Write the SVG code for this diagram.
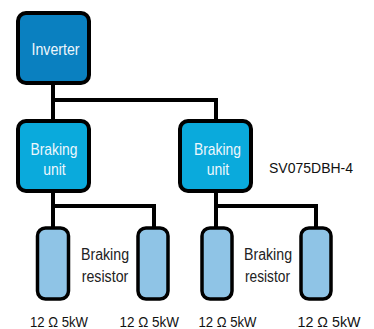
<svg xmlns="http://www.w3.org/2000/svg" width="374" height="329" viewBox="0 0 374 329">
<style>
.box{stroke:#000;stroke-width:4}
.inv{fill:#0a80c0}
.bu{fill:#0aaadc}
.res{fill:#8fc4e6;stroke:#000;stroke-width:3.5}
.wire{fill:none;stroke:#000;stroke-width:4}
.wt{font-family:"Liberation Sans",Arial,sans-serif;font-size:17px;fill:#eef7fc;text-anchor:middle}
.bt{font-family:"Liberation Sans",Arial,sans-serif;font-size:16px;fill:#222;text-anchor:middle}
.lt{font-family:"Liberation Sans",Arial,sans-serif;font-size:14px;fill:#111}
</style>
<rect width="374" height="329" fill="#fff"/>
<g id="connectors">
<path class="wire" d="M53,85V119 M53,100H216V119"/>
<path class="wire" d="M53,193V228 M53,206H154V228"/>
<path class="wire" d="M216,193V228 M216,206H316V228"/>
</g>
<g id="inverter">
<rect class="box inv" x="18" y="13" width="71" height="70" rx="8"/>
<text class="wt" x="55.5" y="55" textLength="48" lengthAdjust="spacingAndGlyphs">Inverter</text>
</g>
<g id="unit1">
<rect class="box bu" x="18" y="121" width="71" height="70" rx="8"/>
<text class="wt" x="54" y="155" textLength="47" lengthAdjust="spacingAndGlyphs">Braking</text>
<text class="wt" x="54.5" y="175" textLength="22.5" lengthAdjust="spacingAndGlyphs">unit</text>
</g>
<g id="unit2">
<rect class="box bu" x="180" y="121" width="71" height="70" rx="8"/>
<text class="wt" x="217.5" y="155" textLength="47" lengthAdjust="spacingAndGlyphs">Braking</text>
<text class="wt" x="218" y="175" textLength="22.5" lengthAdjust="spacingAndGlyphs">unit</text>
</g>
<g id="model-label">
<text class="lt" x="269" y="172.5">SV075DBH-4</text>
</g>
<g id="res1">
<rect class="res" x="37.5" y="228" width="31" height="71" rx="8"/>
<text class="lt" x="30" y="327" textLength="58" lengthAdjust="spacingAndGlyphs">12 Ω 5kW</text>
</g>
<g id="res2">
<rect class="res" x="138" y="228" width="30" height="71" rx="8"/>
<text class="lt" x="119.5" y="327" textLength="59.5" lengthAdjust="spacingAndGlyphs">12 Ω 5kW</text>
</g>
<g id="res3">
<rect class="res" x="202" y="228" width="30" height="71" rx="8"/>
<text class="lt" x="198.5" y="327" textLength="58" lengthAdjust="spacingAndGlyphs">12 Ω 5kW</text>
</g>
<g id="res4">
<rect class="res" x="301" y="228" width="30" height="71" rx="8"/>
<text class="lt" x="297.5" y="327" textLength="63" lengthAdjust="spacingAndGlyphs">12 Ω 5kW</text>
</g>
<g id="resistor-label1">
<text class="bt" x="105" y="260" textLength="48" lengthAdjust="spacingAndGlyphs">Braking</text>
<text class="bt" x="105" y="281.5" textLength="46.5" lengthAdjust="spacingAndGlyphs">resistor</text>
</g>
<g id="resistor-label2">
<text class="bt" x="268" y="260" textLength="48" lengthAdjust="spacingAndGlyphs">Braking</text>
<text class="bt" x="267.5" y="281.5" textLength="45" lengthAdjust="spacingAndGlyphs">resistor</text>
</g>
</svg>
